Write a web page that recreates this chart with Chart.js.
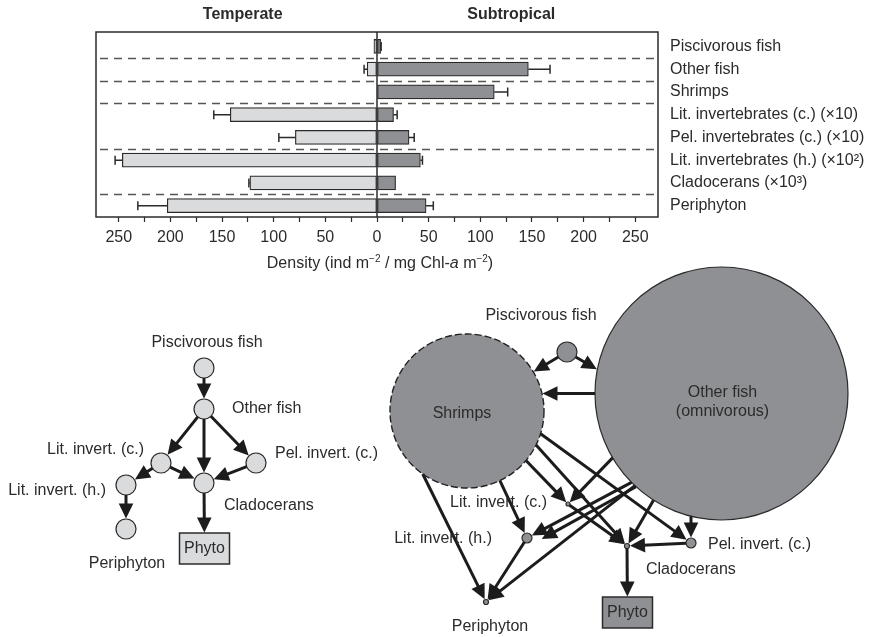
<!DOCTYPE html>
<html>
<head>
<meta charset="utf-8">
<script src="https://cdn.jsdelivr.net/npm/chart.js@4.4.1/dist/chart.umd.min.js"></script>
<style>
  body { margin: 0; background: #fff; }
  #wrap { position: relative; width: 873px; height: 637px; }
  #bars { position: absolute; left: 0; top: 0; }
  #webs { position: absolute; left: 0; top: 250px; }
</style>
</head>
<body>
<div id="wrap">
  <canvas id="bars" width="873" height="285"></canvas>
  <canvas id="webs" width="873" height="387"></canvas>
</div>
<script>
// ---- densities (temperate drawn to the left, subtropical to the right) ----
const groups = [
  'Piscivorous fish', 'Other fish', 'Shrimps',
  'Lit. invertebrates (c.) (×10)', 'Pel. invertebrates (c.) (×10)',
  'Lit. invertebrates (h.) (×10²)', 'Cladocerans (×10³)', 'Periphyton'
];
const temperate     = [3, 9.5, 0, 142, 79, 246.5, 123, 203];
const temperateSE   = [0, 3, 0, 16, 16, 7, 1, 28.5];
const subtropical   = [3.5, 146.5, 113.5, 16, 31, 42, 18, 47.5];
const subtropicalSE = [0.5, 21, 13, 3.5, 5, 2, 0, 7];
const densityTicks  = [-250, -225, -200, -175, -150, -125, -100, -75, -50, -25, 0,
                       25, 50, 75, 100, 125, 150, 175, 200, 225, 250];
const groupBreaks   = [0.5, 1.5, 2.5, 4.5, 6.5];

// ---- food webs ----
const webNodes = ['Piscivorous fish', 'Other fish', 'Shrimps', 'Lit. invert. (c.)',
                  'Pel. invert. (c.)', 'Lit. invert. (h.)', 'Cladocerans', 'Periphyton', 'Phyto'];
const tempX = [204, 204, null, 161, 256, 126, 204, 126, 204.5];
const tempY = [368, 409, null, 463, 463, 485, 483, 529, 548.5];
const tempR = [10, 10, null, 10, 10, 10, 10, 10, 0];
const subX  = [567, 721.5, 467, 568, 691, 527, 627, 486, 627.5];
const subY  = [352, 393.5, 411, 504, 543, 538, 546, 602, 612.5];
const subR  = [10, 126.5, 77, 2, 5, 5, 2.5, 2.5, 0];

// [predator, prey, direction (deg), line passes through 'from'|'to' node, sideways shift]
const tempLinks = [
  ['Piscivorous fish', 'Other fish'],
  ['Other fish', 'Lit. invert. (c.)'],
  ['Other fish', 'Cladocerans'],
  ['Other fish', 'Pel. invert. (c.)'],
  ['Lit. invert. (c.)', 'Lit. invert. (h.)'],
  ['Lit. invert. (c.)', 'Cladocerans'],
  ['Pel. invert. (c.)', 'Cladocerans'],
  ['Lit. invert. (h.)', 'Periphyton'],
  ['Cladocerans', 'Phyto']
];
const subLinks = [
  ['Piscivorous fish', 'Shrimps'],
  ['Piscivorous fish', 'Other fish', 30, 'from'],
  ['Other fish', 'Shrimps', 180, 'from'],
  ['Shrimps', 'Lit. invert. (c.)', 46, 'to'],
  ['Shrimps', 'Cladocerans', 48, 'to'],
  ['Shrimps', 'Pel. invert. (c.)', 36, 'to'],
  ['Shrimps', 'Lit. invert. (h.)'],
  ['Shrimps', 'Periphyton', 63.7, 'to'],
  ['Other fish', 'Lit. invert. (c.)', 134, 'to'],
  ['Other fish', 'Lit. invert. (h.)', 152, 'to'],
  ['Other fish', 'Lit. invert. (h.)', 151, 'to', 8],
  ['Other fish', 'Periphyton', 142, 'to'],
  ['Other fish', 'Cladocerans', 120, 'to'],
  ['Other fish', 'Pel. invert. (c.)', 90, 'to'],
  ['Lit. invert. (c.)', 'Cladocerans'],
  ['Pel. invert. (c.)', 'Cladocerans'],
  ['Lit. invert. (h.)', 'Periphyton'],
  ['Cladocerans', 'Phyto']
];

// label text and placement relative to each node: [text, dx, dy, align]
const tempLabels = {
  'Piscivorous fish':  ['Piscivorous fish', 3, -25, 'center'],
  'Other fish':        ['Other fish', 28, 0, 'left'],
  'Lit. invert. (c.)': ['Lit. invert. (c.)', -17, -13, 'right'],
  'Pel. invert. (c.)': ['Pel. invert. (c.)', 19, -9, 'left'],
  'Lit. invert. (h.)': ['Lit. invert. (h.)', -20, 6, 'right'],
  'Cladocerans':       ['Cladocerans', 20, 23, 'left'],
  'Periphyton':        ['Periphyton', 1, 35, 'center'],
  'Phyto':             ['Phyto', 0, 0, 'center']
};
const subLabels = {
  'Piscivorous fish':  ['Piscivorous fish', -26, -36, 'center'],
  'Other fish':        ['Other fish\n(omnivorous)', 1, 9, 'center'],
  'Shrimps':           ['Shrimps', -5, 3, 'center'],
  'Lit. invert. (c.)': ['Lit. invert. (c.)', -21, -1, 'right'],
  'Pel. invert. (c.)': ['Pel. invert. (c.)', 17, 2, 'left'],
  'Lit. invert. (h.)': ['Lit. invert. (h.)', -35, 1, 'right'],
  'Cladocerans':       ['Cladocerans', 19, 24, 'left'],
  'Periphyton':        ['Periphyton', 4, 25, 'center'],
  'Phyto':             ['Phyto', 0, 0, 'center']
};

const FONT = '"Liberation Sans", Arial, Helvetica, sans-serif';
const INK = '#2b2b2b';
const LIGHT = '#dadbdd';
const DARK = '#8f9094';
const STYLE = { line: '#1c1c1c', lineWidth: 3, head: 15, headHalf: 7.3, boxW: 50, boxH: 31 };

Chart.defaults.font.family = FONT;
Chart.defaults.color = INK;

// ---------- bar chart ----------
const barDecor = {
  id: 'barDecor',
  beforeDatasetsDraw(chart) {
    const { ctx, chartArea: a, scales: { y } } = chart;
    ctx.save();
    ctx.strokeStyle = '#555';
    ctx.lineWidth = 1.3;
    ctx.setLineDash([8, 6]);
    groupBreaks.forEach(b => {
      const py = Math.round(y.getPixelForValue(b)) + 0.5;
      ctx.beginPath();
      ctx.moveTo(a.left + 4, py);
      ctx.lineTo(a.right, py);
      ctx.stroke();
    });
    ctx.restore();
  },
  afterDatasetsDraw(chart) {
    const { ctx, chartArea: a, scales: { x } } = chart;
    ctx.save();
    ctx.strokeStyle = INK;
    ctx.lineWidth = 1.5;
    // error bars
    [[temperate, temperateSE, -1], [subtropical, subtropicalSE, 1]].forEach(([vals, errs, sign], di) => {
      chart.getDatasetMeta(di).data.forEach((bar, i) => {
        if (!errs[i]) return;
        const x0 = x.getPixelForValue(sign * vals[i]);
        const x1 = x.getPixelForValue(sign * (vals[i] + errs[i]));
        ctx.beginPath();
        ctx.moveTo(x0, bar.y);
        ctx.lineTo(x1, bar.y);
        ctx.moveTo(x1, bar.y - 4.5);
        ctx.lineTo(x1, bar.y + 4.5);
        ctx.stroke();
      });
    });
    // frame and zero line
    const top = a.top - 3;
    ctx.strokeRect(a.left, top, a.right - a.left, a.bottom - top);
    const zx = x.getPixelForValue(0);
    ctx.beginPath();
    ctx.moveTo(zx, top);
    ctx.lineTo(zx, a.bottom);
    ctx.stroke();
    // panel headings
    ctx.fillStyle = INK;
    ctx.font = 'bold 16px ' + FONT;
    ctx.textAlign = 'center';
    ctx.textBaseline = 'alphabetic';
    ctx.fillText('Temperate', x.getPixelForValue(-130), 18.5);
    ctx.fillText('Subtropical', x.getPixelForValue(130), 18.5);
    // axis title with superscripts and italic a
    const parts = [['Density (ind m', 'n'], ['−2', 's'], [' / mg Chl-', 'n'], ['a', 'i'],
                   [' m', 'n'], ['−2', 's'], [')', 'n']];
    const fontOf = k => k === 's' ? '10px ' + FONT : (k === 'i' ? 'italic 16px ' + FONT : '16px ' + FONT);
    let w = 0;
    parts.forEach(([t, k]) => { ctx.font = fontOf(k); w += ctx.measureText(t).width; });
    let cx = zx + 3 - w / 2;
    ctx.textAlign = 'left';
    parts.forEach(([t, k]) => {
      ctx.font = fontOf(k);
      ctx.fillText(t, cx, k === 's' ? 262 : 268);
      cx += ctx.measureText(t).width;
    });
    ctx.restore();
  }
};

new Chart(document.getElementById('bars'), {
  type: 'bar',
  data: {
    labels: groups,
    datasets: [
      { label: 'Temperate', data: temperate.map(v => v ? -v : null), backgroundColor: LIGHT,
        borderColor: INK, borderWidth: 1.2, borderSkipped: false, barThickness: 14 },
      { label: 'Subtropical', data: subtropical, backgroundColor: DARK,
        borderColor: INK, borderWidth: 1.2, borderSkipped: false, barThickness: 14 }
    ]
  },
  options: {
    indexAxis: 'y',
    responsive: false,
    animation: false,
    events: [],
    layout: { padding: { left: 96, top: 35, right: 0, bottom: 0 } },
    plugins: { legend: { display: false }, tooltip: { enabled: false } },
    scales: {
      x: {
        type: 'linear', min: -272, max: 272, stacked: true,
        afterBuildTicks: s => { s.ticks = densityTicks.map(v => ({ value: v })); },
        afterFit: s => { s.height = 68; },
        ticks: { callback: v => v % 50 === 0 ? String(Math.abs(v)) : '', autoSkip: false, maxRotation: 0,
                 padding: 6, font: { size: 16 }, color: INK },
        grid: { drawOnChartArea: false, drawTicks: true, tickLength: 5, color: INK, tickWidth: 1.2 },
        border: { display: false }
      },
      y: {
        position: 'right', stacked: true,
        afterFit: s => { s.width = 215; },
        grid: { display: false, drawTicks: false },
        border: { display: false },
        ticks: { padding: 12, font: { size: 16 }, color: INK }
      }
    }
  },
  plugins: [barDecor]
});

// ---------- food webs ----------
function nodePoints(xs, ys, rs) {
  return webNodes.map((name, i) => ({ x: xs[i], y: ys[i], r: rs[i], name }))
    .filter(p => p.x != null && p.name !== 'Phyto');
}

function linkEnds(S, T, rs, rt, toBox, dirDeg, anchor, shift) {
  let d;
  if (dirDeg == null) {
    const L = Math.hypot(T.x - S.x, T.y - S.y);
    d = { x: (T.x - S.x) / L, y: (T.y - S.y) / L };
    anchor = 'from';
  } else {
    const r = dirDeg * Math.PI / 180;
    d = { x: Math.cos(r), y: Math.sin(r) };
  }
  const n = { x: d.y, y: -d.x };
  const base = anchor === 'to' ? T : S;
  const A = { x: base.x + n.x * (shift || 0), y: base.y + n.y * (shift || 0) };
  const hit = (C, r) => {
    const px = A.x - C.x, py = A.y - C.y;
    const b = px * d.x + py * d.y;
    const disc = b * b - (px * px + py * py - r * r);
    return disc < 0 ? null : [-b - Math.sqrt(disc), -b + Math.sqrt(disc)];
  };
  const hs = hit(S, rs);
  const t0 = hs ? hs[1] : 0;
  let t1;
  if (toBox) {
    const tc = (T.x - A.x) * d.x + (T.y - A.y) * d.y;
    t1 = tc - Math.min(STYLE.boxW / 2 / Math.max(Math.abs(d.x), 1e-6),
                       STYLE.boxH / 2 / Math.max(Math.abs(d.y), 1e-6));
  } else {
    const ht = hit(T, rt);
    t1 = ht ? ht[0] : (T.x - A.x) * d.x + (T.y - A.y) * d.y - 12;
  }
  const at = t => ({ x: A.x + d.x * t, y: A.y + d.y * t });
  return [at(t0), at(t1 - 0.5)];
}

function drawArrow(ctx, p0, p1) {
  const L = Math.hypot(p1.x - p0.x, p1.y - p0.y);
  const ux = (p1.x - p0.x) / L, uy = (p1.y - p0.y) / L;
  const bx = p1.x - ux * STYLE.head, by = p1.y - uy * STYLE.head;
  ctx.beginPath();
  ctx.moveTo(p0.x, p0.y);
  ctx.lineTo(bx + ux * 2, by + uy * 2);
  ctx.stroke();
  ctx.beginPath();
  ctx.moveTo(p1.x, p1.y);
  ctx.lineTo(bx - uy * STYLE.headHalf, by + ux * STYLE.headHalf);
  ctx.lineTo(bx + uy * STYLE.headHalf, by - ux * STYLE.headHalf);
  ctx.closePath();
  ctx.fill();
}

const webs = [
  { X: tempX, Y: tempY, R: tempR, links: tempLinks, labels: tempLabels, fill: LIGHT },
  { X: subX, Y: subY, R: subR, links: subLinks, labels: subLabels, fill: DARK }
];

const webDecor = {
  id: 'webDecor',
  afterDatasetsDraw(chart) {
    const { ctx, scales: { x, y } } = chart;
    ctx.save();
    webs.forEach(web => {
      const px = name => {
        const i = webNodes.indexOf(name);
        return { x: x.getPixelForValue(web.X[i]), y: y.getPixelForValue(web.Y[i]), r: web.R[i] };
      };
      // dashed outline for shrimps
      const si = webNodes.indexOf('Shrimps');
      if (web.X[si] != null) {
        const s = px('Shrimps');
        ctx.setLineDash([7, 3]);
        ctx.strokeStyle = '#222';
        ctx.lineWidth = 1.4;
        ctx.beginPath();
        ctx.arc(s.x, s.y, s.r, 0, Math.PI * 2);
        ctx.stroke();
        ctx.setLineDash([]);
      }
      // phytoplankton box
      const ph = px('Phyto');
      ctx.fillStyle = web.fill;
      ctx.fillRect(ph.x - STYLE.boxW / 2, ph.y - STYLE.boxH / 2, STYLE.boxW, STYLE.boxH);
      ctx.strokeStyle = INK;
      ctx.lineWidth = 1.5;
      ctx.strokeRect(ph.x - STYLE.boxW / 2, ph.y - STYLE.boxH / 2, STYLE.boxW, STYLE.boxH);
      // trophic links
      ctx.strokeStyle = STYLE.line;
      ctx.fillStyle = STYLE.line;
      ctx.lineWidth = STYLE.lineWidth;
      web.links.forEach(([from, to, dir, anchor, shift]) => {
        const S = px(from), T = px(to);
        const [p0, p1] = linkEnds(S, T, S.r, T.r, to === 'Phyto', dir, anchor, shift);
        drawArrow(ctx, p0, p1);
      });
      // labels
      ctx.fillStyle = INK;
      ctx.font = '16px ' + FONT;
      ctx.textBaseline = 'middle';
      Object.entries(web.labels).forEach(([name, [text, dx, dy, align]]) => {
        const p = px(name);
        const lines = text.split('\n');
        ctx.textAlign = align;
        lines.forEach((ln, k) => {
          ctx.fillText(ln, p.x + dx, p.y + dy + (k - (lines.length - 1) / 2) * 19);
        });
      });
    });
    ctx.restore();
  }
};

new Chart(document.getElementById('webs'), {
  type: 'bubble',
  data: {
    datasets: [
      { label: 'Temperate', data: nodePoints(tempX, tempY, tempR), backgroundColor: LIGHT,
        borderColor: INK, borderWidth: 1.2, clip: false },
      { label: 'Subtropical', data: nodePoints(subX, subY, subR), backgroundColor: DARK,
        borderColor: INK, borderWidth: c => (c.raw && c.raw.name === 'Shrimps') ? 0 : 1.2, clip: false }
    ]
  },
  options: {
    responsive: false,
    animation: false,
    events: [],
    layout: { padding: 0, autoPadding: false },
    plugins: { legend: { display: false }, tooltip: { enabled: false } },
    scales: {
      x: { type: 'linear', min: 0, max: 873, display: false },
      y: { type: 'linear', min: 250, max: 637, reverse: true, display: false }
    }
  },
  plugins: [webDecor]
});
</script>
</body>
</html>
